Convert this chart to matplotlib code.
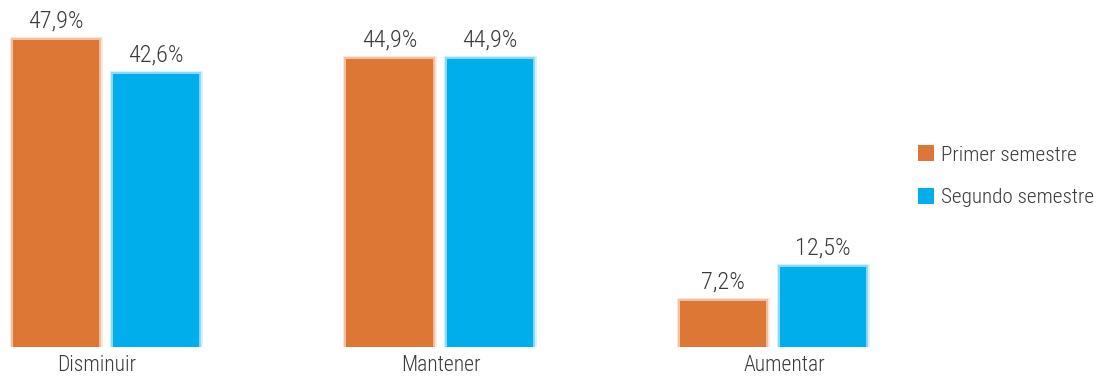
import matplotlib
matplotlib.use("Agg")
import matplotlib.pyplot as plt
import matplotlib.patheffects as pe
import numpy as np

categories = ["Disminuir", "Mantener", "Aumentar"]
series_names = ["Primer semestre", "Segundo semestre"]
primer = [47.9, 44.9, 7.2]
segundo = [42.6, 44.9, 12.5]
colors = ["#DD7735", "#00AEEC"]
text_color = "#3A3A3A"

plt.rcParams["font.family"] = ["Roboto Condensed", "DejaVu Sans"]
plt.rcParams["font.weight"] = 300

W, H, DPI = 1111, 376, 100
fig = plt.figure(figsize=(W / DPI, H / DPI), dpi=DPI)
base_px = 29
ax = fig.add_axes([0, base_px / H, 1, (H - base_px) / H])

x = np.arange(len(categories))
group_px = 333.5
x0_px = 106
ax.set_xlim(-x0_px / group_px, (W - x0_px) / group_px)
ax.set_ylim(0, (H - base_px) / 6.41)

width = 86 / group_px
offset = 50 / group_px

for vals, col, sign, name in [(primer, colors[0], -1, series_names[0]),
                              (segundo, colors[1], 1, series_names[1])]:
    bars = ax.bar(x + sign * offset, vals, width=width, color=col, label=name,
                  linewidth=0)
    for b in bars:
        b.set_path_effects([
            pe.Stroke(linewidth=5, foreground=col, alpha=0.15),
            pe.Stroke(linewidth=3, foreground=col, alpha=0.35),
            pe.Normal(),
        ])
    for xi, v in zip(x + sign * offset, vals):
        ax.text(xi, v + 1.15, f"{v:.1f}".replace(".", ",") + "%", ha="center",
                va="bottom", fontsize=17.5, color=text_color)

# category labels sit on a slightly wider spacing than the bar groups
ax.set_xticks(x * 1.031 - 0.027)
ax.set_xticklabels(categories, fontsize=15.5, color=text_color)
ax.tick_params(axis="x", length=0, pad=6)
ax.set_yticks([])
for s in ax.spines.values():
    s.set_visible(False)
ax.patch.set_alpha(0)

leg = ax.legend(loc="upper left", bbox_to_anchor=(910 / W, 1 - 137 / (H - base_px)),
                bbox_transform=ax.transAxes, frameon=False, fontsize=15.2,
                handlelength=0.75, handleheight=0.75, handletextpad=0.3,
                labelspacing=1.12, borderaxespad=0)
for t in leg.get_texts():
    t.set_color(text_color)
for h in leg.legend_handles:
    h.set_path_effects([])

fig.savefig("out.png", dpi=DPI, facecolor="white")
